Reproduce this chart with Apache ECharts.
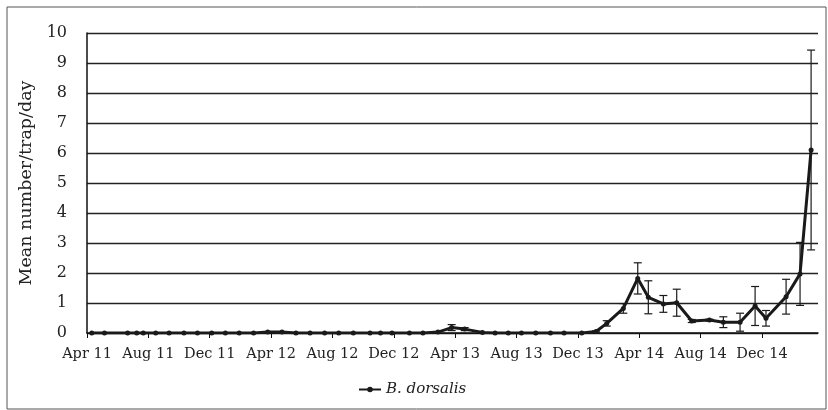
<!DOCTYPE html>
<html>
<head>
<meta charset="utf-8">
<style>
html,body{margin:0;padding:0;background:#fff;}
#chart{width:828px;height:410px;}
</style>
<script src="https://cdn.jsdelivr.net/npm/echarts@6/dist/echarts.min.js"></script>
</head>
<body>
<div id="chart"></div>
<script>
// x positions: months since 1 Apr 2011
var monthsSinceApr2011 = [0.31,1.14,2.65,3.24,3.67,4.48,5.35,6.32,7.2,8.13,9.02,9.92,10.86,11.78,12.71,13.62,14.54,15.49,16.41,17.36,18.45,19.13,19.88,21.02,21.9,22.88,23.77,24.62,25.78,26.6,27.46,28.32,29.25,30.21,31.1,32.25,33.18,33.88,34.96,35.9,36.59,37.57,38.44,39.42,40.57,41.48,42.57,43.55,44.26,45.57,46.48,47.2];
var meanValues = [0,0,0,0,0,0,0,0,0,0,0,0,0,0.03,0.03,0,0,0,0,0,0,0,0,0,0,0.03,0.18,0.13,0.02,0,0,0,0,0,0,0,0.05,0.32,0.82,1.82,1.19,0.97,1.01,0.4,0.43,0.36,0.36,0.9,0.49,1.21,1.97,6.1];
var errorValues = [0,0,0,0,0,0,0,0,0,0,0,0,0,0,0,0,0,0,0,0,0,0,0,0,0,0,0.1,0.05,0,0,0,0,0,0,0,0,0.02,0.09,0.16,0.52,0.55,0.28,0.45,0.05,0.03,0.18,0.3,0.65,0.26,0.58,1.05,3.33];
var tickLabels = ['Apr 11','Aug 11','Dec 11','Apr 12','Aug 12','Dec 12','Apr 13','Aug 13','Dec 13','Apr 14','Aug 14','Dec 14'];
var seriesName = 'B. dorsalis';

var lineData = monthsSinceApr2011.map(function(m,i){return [m, meanValues[i]];});
var errData = monthsSinceApr2011.map(function(m,i){return [m, meanValues[i], errorValues[i]];});

var FONT = 'DejaVu Serif';
var chart = echarts.init(document.getElementById('chart'), null, {renderer:'canvas'});
chart.setOption({
  animation:false,
  backgroundColor:'#fff',
  graphic:[{type:'rect', shape:{x:7,y:7,width:819,height:402}, style:{fill:'none', stroke:'#555', lineWidth:1}, silent:true, z:-1}],
  grid:{left:87, right:10, top:33, bottom:77},
  xAxis:{
    type:'value', min:0, max:47.65, interval:4,
    axisLine:{show:true, lineStyle:{color:'#111', width:1.5}},
    axisTick:{show:true, length:5, inside:false, lineStyle:{color:'#111'}},
    splitLine:{show:false},
    axisLabel:{
      color:'#222', fontFamily:FONT, fontSize:14.5, margin:14, showMaxLabel:false,
      formatter:function(v){var k=v/4; if(Math.abs(k-Math.round(k))<1e-6 && tickLabels[Math.round(k)]) return tickLabels[Math.round(k)]; return '';}
    }
  },
  yAxis:{
    type:'value', min:0, max:10, interval:1,
    name:'Mean number/trap/day', nameLocation:'middle', nameGap:51,
    nameTextStyle:{color:'#222', fontFamily:FONT, fontSize:17.5},
    axisLine:{show:true, lineStyle:{color:'#111', width:1.5}},
    axisTick:{show:false},
    splitLine:{show:true, lineStyle:{color:'#222', width:1.3}},
    axisLabel:{color:'#222', fontFamily:FONT, fontSize:16, margin:20}
  },
  legend:{
    data:[{name:seriesName}],
    left:353, top:377, itemWidth:22, itemHeight:7, itemGap:5,
    textStyle:{color:'#222', fontFamily:FONT, fontSize:15, fontStyle:'italic'}
  },
  series:[
    {
      name:seriesName, type:'line', data:lineData,
      symbol:'circle', symbolSize:5,
      lineStyle:{color:'#1a1a1a', width:3},
      itemStyle:{color:'#1a1a1a'},
      z:3
    },
    {
      name:'err', type:'custom', data:errData, z:4,
      renderItem:function(params, api){
        var x=api.value(0), v=api.value(1), e=api.value(2);
        if(!e) return null;
        var t=api.coord([x, v+e]), b=api.coord([x, v-e]);
        var hw=4, st={stroke:'#1a1a1a', lineWidth:1.2};
        return {type:'group', children:[
          {type:'line', shape:{x1:t[0],y1:t[1],x2:b[0],y2:b[1]}, style:st},
          {type:'line', shape:{x1:t[0]-hw,y1:t[1],x2:t[0]+hw,y2:t[1]}, style:st},
          {type:'line', shape:{x1:b[0]-hw,y1:b[1],x2:b[0]+hw,y2:b[1]}, style:st}
        ]};
      }
    }
  ]
});
</script>
</body>
</html>
